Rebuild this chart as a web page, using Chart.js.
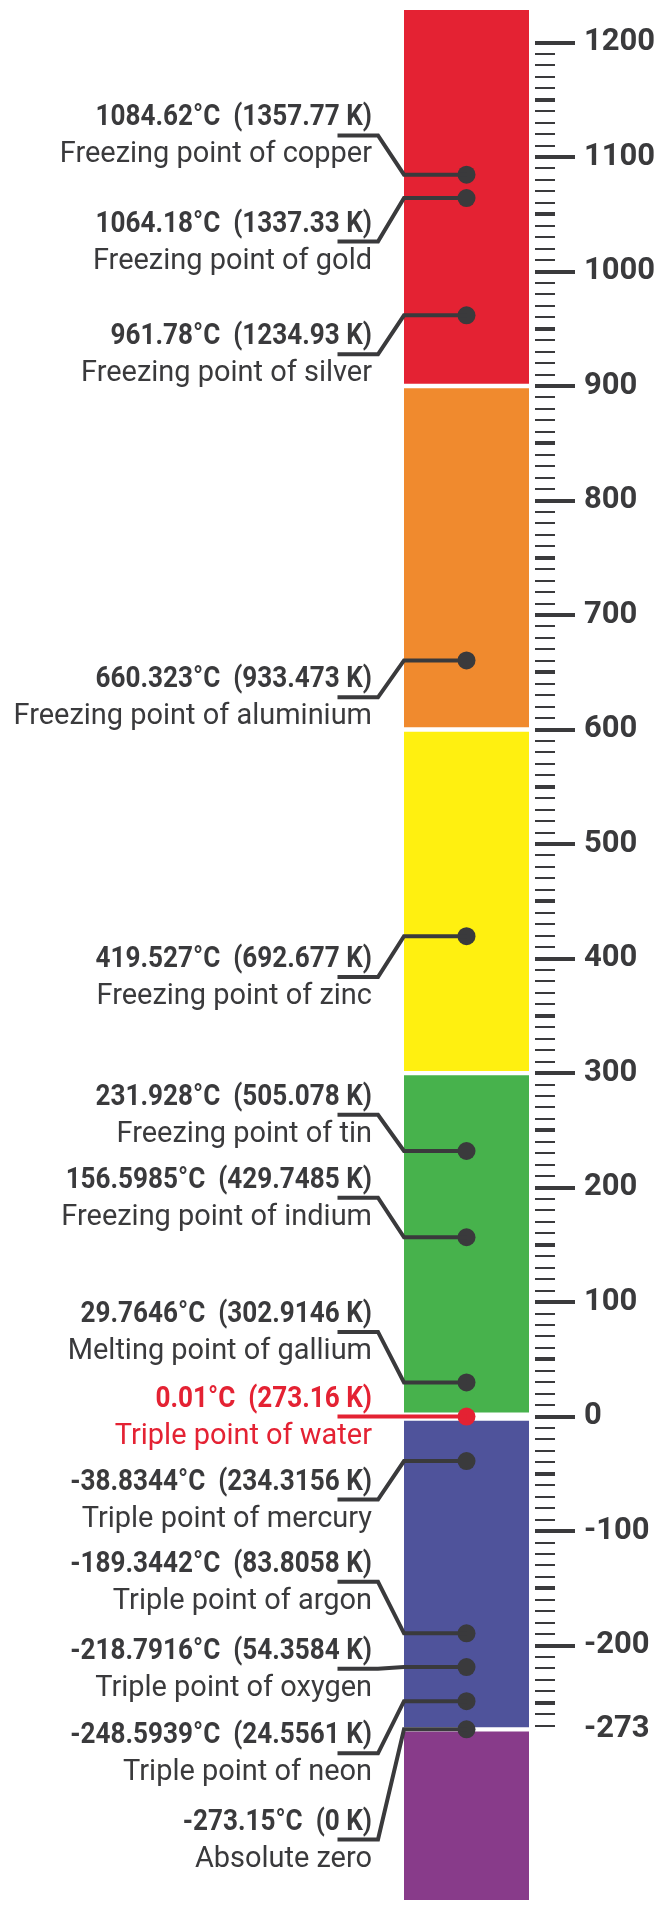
<!DOCTYPE html>
<html>
<head>
<meta charset="utf-8">
<script src="https://cdn.jsdelivr.net/npm/chart.js@4.4.1/dist/chart.umd.min.js"></script>
<style>
  html, body { margin: 0; padding: 0; background: #fff; }
  #wrap { position: relative; width: 669px; height: 1909px; }
</style>
</head>
<body>
<div id="wrap"><canvas id="scale"></canvas></div>
<script>
// Defining fixed points, top to bottom
const pointNames = [
  "Freezing point of copper",
  "Freezing point of gold",
  "Freezing point of silver",
  "Freezing point of aluminium",
  "Freezing point of zinc",
  "Freezing point of tin",
  "Freezing point of indium",
  "Melting point of gallium",
  "Triple point of water",
  "Triple point of mercury",
  "Triple point of argon",
  "Triple point of oxygen",
  "Triple point of neon",
  "Absolute zero"
]
const celsius = [1084.62, 1064.18, 961.78, 660.323, 419.527, 231.928, 156.5985, 29.7646, 0.01, -38.8344, -189.3442, -218.7916, -248.5939, -273.15]
const kelvin = [1357.77, 1337.33, 1234.93, 933.473, 692.677, 505.078, 429.7485, 302.9146, 273.16, 234.3156, 83.8058, 54.3584, 24.5561, 0]
const highlighted = "Triple point of water"

// Axis range and tick labels (°C)
const axisMin = -422.2
const axisMax = 1228.4
const majorTicks = [-200, -100, 0, 100, 200, 300, 400, 500, 600, 700, 800, 900, 1000, 1100, 1200]
const floorTick = -273
const minorStep = 10

// Colour bands, lower and upper edge (°C)
const bandLow = [900, 600, 300, 0, -273.15, axisMin]
const bandHigh = [axisMax, 900, 600, 300, 0, -273.15]

// Layout only: height (°C) at which each callout's text is hung
const labelAnchor = [1118.9, 1026.2, 927.7, 628.1, 383.8, 263.6, 191.2, 73.9, 0.01, -72.5, -144.3, -220.3, -294.1, -369.4]

const bandColors = ["#e42233", "#f08a2e", "#fff010", "#47b24c", "#4f539b", "#883b8a"]
const dark = "#3a3a3c"
const red = "#e42233"

// every 10 degrees from -270 up to 1200, plus the -273 label
const tickValues = [floorTick]
for (let v = -270; v <= majorTicks[majorTicks.length - 1]; v += minorStep) tickValues.push(v)

function drawText(ctx, text, x, y, weight, squeeze, color) {
  ctx.save()
  ctx.translate(x, y)
  ctx.scale(squeeze, 1)
  ctx.font = `${weight} 30px Roboto`
  ctx.fillStyle = color
  ctx.textAlign = "right"
  ctx.textBaseline = "alphabetic"
  ctx.fillText(text, 0, 0)
  ctx.restore()
}

const callouts = {
  id: "callouts",
  afterDatasetsDraw(chart) {
    const { ctx, chartArea, scales } = chart
    const dots = chart.getDatasetMeta(0).data
    const left = chartArea.left
    ctx.save()
    dots.forEach((pt, i) => {
      const colour = pointNames[i] === highlighted ? red : dark
      const ya = scales.y.getPixelForValue(labelAnchor[i])
      ctx.strokeStyle = colour
      ctx.lineWidth = 4
      ctx.lineJoin = "miter"
      ctx.beginPath()
      ctx.moveTo(pt.x, pt.y)
      ctx.lineTo(left, pt.y)
      ctx.lineTo(left - 26, ya)
      ctx.lineTo(left - 66.5, ya)
      ctx.stroke()

      drawText(ctx, `${celsius[i]}°C  (${kelvin[i]} K)`, left - 32, ya - 10, "bold", 0.87, colour)
      drawText(ctx, pointNames[i], left - 32, ya + 27, "normal", 0.965, colour)
    })
    ctx.restore()
  }
}

const isMajor = (v) => majorTicks.includes(v)

new Chart(document.getElementById("scale"), {
  data: {
    labels: ["ITS-90"],
    datasets: [
      {
        type: "line",
        label: "Fixed points",
        data: celsius.map((c) => ({ x: "ITS-90", y: c })),
        showLine: false,
        pointRadius: 9,
        pointHoverRadius: 9,
        pointBorderWidth: 0,
        pointBackgroundColor: pointNames.map((n) => (n === highlighted ? red : dark)),
        order: 0
      },
      ...bandLow.map((low, i) => ({
        type: "bar",
        label: "band " + i,
        data: [[low, bandHigh[i]]],
        backgroundColor: bandColors[i],
        borderColor: "#ffffff",
        borderWidth: {
          top: i === 0 ? 0 : 2.5,
          bottom: i === bandLow.length - 1 ? 0 : 2.5,
          left: 0,
          right: 0
        },
        borderSkipped: false,
        grouped: false,
        barPercentage: 1,
        categoryPercentage: 1,
        order: 1
      }))
    ]
  },
  options: {
    responsive: true,
    maintainAspectRatio: false,
    animation: false,
    layout: { padding: { left: 404, top: 10, right: 0, bottom: 0 } },
    plugins: {
      legend: { display: false },
      tooltip: { enabled: false }
    },
    scales: {
      x: { type: "category", display: false, offset: true },
      y: {
        type: "linear",
        position: "right",
        min: axisMin,
        max: axisMax,
        afterBuildTicks: (s) => {
          s.ticks = tickValues.map((v) => ({ value: v }))
        },
        afterFit: (s) => {
          s.width = 140
          s.paddingTop = 0
          s.paddingBottom = 0
        },
        border: { display: true, width: 12, color: "rgba(0,0,0,0)" },
        grid: {
          drawOnChartArea: false,
          tickLength: 46,
          lineWidth: (c) => (c.tick.value % 50 === 0 ? 4 : 2),
          tickWidth: (c) => (c.tick.value === floorTick ? 0 : c.tick.value % 50 === 0 ? 4 : 2),
          tickColor: dark,
          tickBorderDash: (c) => (isMajor(c.tick.value) ? [] : [20, 200])
        },
        ticks: {
          autoSkip: false,
          maxRotation: 0,
          padding: 9,
          color: dark,
          font: { family: "Roboto", weight: "bold", size: 31 },
          callback: (v) => (isMajor(v) || v === floorTick ? String(v) : "")
        }
      }
    }
  },
  plugins: [callouts]
})
</script>
</body>
</html>
